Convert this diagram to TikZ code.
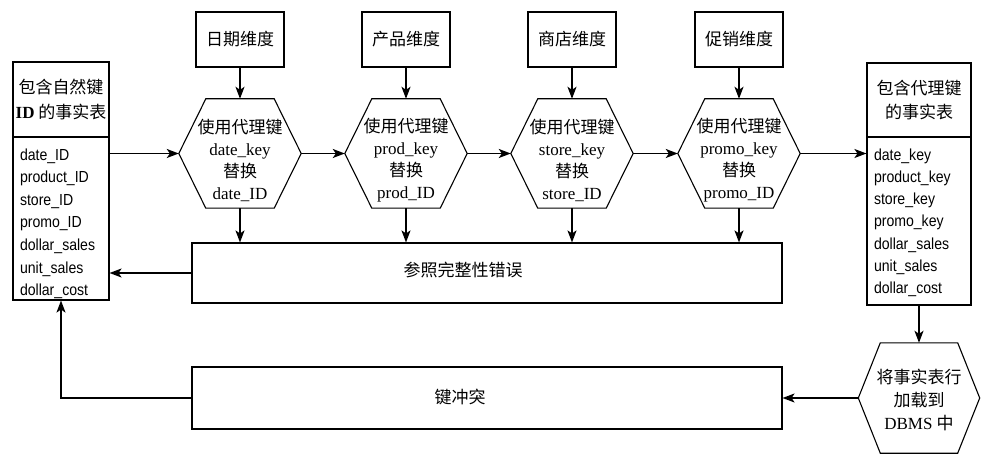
\documentclass[tikz,border=0pt]{standalone}
\usepackage{fontspec}
\setmainfont{Liberation Serif}
\newfontfamily\cjk{Noto Sans CJK SC}
\newfontfamily\fieldfont{Liberation Sans}[FakeStretch=0.88]
\usetikzlibrary{arrows.meta,calc}
\newcommand\toppad[1]{\rule{0pt}{#1}}
\begin{document}
\begin{tikzpicture}[x=1pt,y=-1pt,
  box/.style={draw,line width=1.1pt,inner sep=0pt},
  dimbox/.style={box,minimum width=88pt,minimum height=55pt,font=\cjk\fontsize{17}{20}\selectfont},
  hexnode/.style={inner sep=0pt,minimum width=122pt,minimum height=109pt,align=center,font=\fontsize{17}{22}\selectfont},
  hdr/.style={box,align=center,font=\cjk\fontsize{17}{24.5}\selectfont},
  fields/.style={box,align=left,font=\fieldfont\fontsize{16}{22.6}\selectfont},
  arr/.style={line width=1.5pt,-{Stealth[length=12pt,width=9pt,inset=3pt]}},
  hexline/.style={line width=1.1pt}]
\useasboundingbox (0,0) rectangle (999,465);

% dimension boxes
\node[dimbox] (d1) at (240,39.5) {日期维度};
\node[dimbox] (d2) at (406,39.5) {产品维度};
\node[dimbox] (d3) at (572,39.5) {商店维度};
\node[dimbox] (d4) at (739,39.5) {促销维度};

% hexagons
\node[hexnode] (h1) at (240,153.5) {\toppad{28pt}{\cjk 使用代理键}\\date\textunderscore key\\{\cjk 替换}\\date\textunderscore ID};
\node[hexnode] (h2) at (406,153.5) {\toppad{28pt}{\cjk 使用代理键}\\prod\textunderscore key\\{\cjk 替换}\\prod\textunderscore ID};
\node[hexnode] (h3) at (572,153.5) {\toppad{28pt}{\cjk 使用代理键}\\store\textunderscore key\\{\cjk 替换}\\store\textunderscore ID};
\node[hexnode] (h4) at (739,153.5) {\toppad{28pt}{\cjk 使用代理键}\\promo\textunderscore key\\{\cjk 替换}\\promo\textunderscore ID};
\node[hexnode,minimum width=121pt,minimum height=110pt,font=\fontsize{17}{23}\selectfont] (db) at (919,398) {\toppad{18pt}{\cjk 将事实表行}\\{\cjk 加载到}\\DBMS {\cjk 中}};
\foreach \h/\c in {h1/27,h2/27,h3/27,h4/27,db/22}{
  \draw[hexline] (\h.west) -- ([xshift=\c pt]\h.north west) -- ([xshift=-\c pt]\h.north east)
    -- (\h.east) -- ([xshift=-\c pt]\h.south east) -- ([xshift=\c pt]\h.south west) -- cycle;
}

% fact tables
\node[hdr,minimum width=96pt,minimum height=75pt] (lh) at (61,99.5) {包含自然键\\{\rmfamily\bfseries ID} 的事实表};
\node[fields,minimum width=96pt,minimum height=163pt,text width=82pt] (lf) at (61,218.5)
  {\toppad{22pt}date\textunderscore ID\\product\textunderscore ID\\store\textunderscore ID\\promo\textunderscore ID\\dollar\textunderscore sales\\unit\textunderscore sales\\dollar\textunderscore cost};
\node[hdr,minimum width=104pt,minimum height=74pt] (rh) at (919,100) {包含代理键\\的事实表};
\node[fields,minimum width=104pt,minimum height=168pt,text width=90pt,font=\fieldfont\fontsize{16}{22.3}\selectfont] (rf) at (919,221)
  {\toppad{15pt}date\textunderscore key\\product\textunderscore key\\store\textunderscore key\\promo\textunderscore key\\dollar\textunderscore sales\\unit\textunderscore sales\\dollar\textunderscore cost};

% error boxes
\node[box,minimum width=590pt,minimum height=60pt] (err) at (487,273) {};
\node[font=\cjk\fontsize{17}{20}\selectfont,inner sep=0pt] (errt) at (463,270) {参照完整性错误};
\node[box,minimum width=590pt,minimum height=62pt] (kc) at (487,398) {};
\node[font=\cjk\fontsize{17}{20}\selectfont,inner sep=0pt] (kct) at (460,397) {键冲突};

% connectors
\foreach \i in {1,2,3,4}{
  \draw[arr] (d\i.south) -- (h\i.north);
  \draw[arr] (h\i.south) -- (h\i.south |- err.north);
}
\draw[arr] (h1.west -| lf.east) -- (h1.west);
\draw[arr] (h1.east) -- (h2.west);
\draw[arr] (h2.east) -- (h3.west);
\draw[arr] (h3.east) -- (h4.west);
\draw[arr] (h4.east) -- (h4.east -| rf.west);
\draw[arr] (err.west) -- (err.west -| lf.east);
\draw[arr] (rf.south) -- (db.north);
\draw[arr] (db.west) -- (db.west -| kc.east);
\draw[arr] (kc.west) -| (lf.south);
\end{tikzpicture}
\end{document}
